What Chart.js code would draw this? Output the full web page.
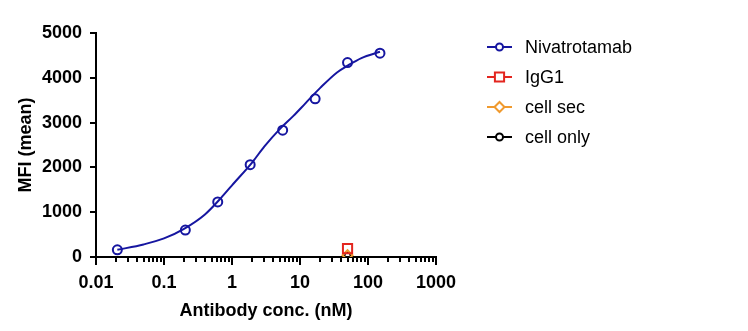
<!DOCTYPE html>
<html>
<head>
<meta charset="utf-8">
<script src="https://cdn.jsdelivr.net/npm/chart.js@4/dist/chart.umd.min.js"></script>
<style>
  html, body { margin: 0; padding: 0; background: #fff; }
  #wrap { width: 748px; height: 331px; position: relative; }
</style>
</head>
<body>
<div id="wrap"><canvas id="mfiChart"></canvas></div>
<script>
// measured binding: concentration (nM) vs MFI
const concNM      = [0.0206, 0.206, 0.617, 1.85, 5.56, 16.7, 50, 150];
const mfiNiva     = [160, 600, 1230, 2060, 2830, 3530, 4340, 4550];
// fitted curve, sampled along its length
const fitConc     = [0.0206, 0.05, 0.1, 0.2, 0.4, 0.7, 1, 2, 3, 5, 8, 12, 20, 35, 50, 80, 150];
const fitMFI      = [160, 280, 415, 635, 950, 1330, 1600, 2120, 2470, 2850, 3150, 3430, 3780, 4120, 4270, 4440, 4580];
// controls, single concentration
const ctrlConc    = [50];
const mfiIgG1     = [185];
const mfiCellSec  = [40];
const mfiCellOnly = [40];
const xTickValues = [0.01, 0.1, 1, 10, 100, 1000];
const yTickValues = [0, 1000, 2000, 3000, 4000, 5000];

const FONT = "'Liberation Sans', Arial, Helvetica, sans-serif";
const NAVY = '#1616a0';
const RED = '#e3261f';
const ORANGE = '#f09a2e';
const BLACK = '#000';

const pts = (xs, ys) => ys.map((y, i) => ({ x: xs[i], y }));

// short minor ticks on the log axis (2..9 within each decade)
const minorTicks = {
  id: 'minorTicks',
  afterDraw(chart) {
    const x = chart.scales.x, y = chart.scales.y;
    const c = chart.ctx;
    c.save();
    c.strokeStyle = '#000';
    c.lineWidth = 2;
    for (let d = 0; d < xTickValues.length - 1; d++) {
      for (let k = 2; k <= 9; k++) {
        const px = Math.round(x.getPixelForValue(xTickValues[d] * k));
        c.beginPath();
        c.moveTo(px, y.bottom);
        c.lineTo(px, y.bottom + 5);
        c.stroke();
      }
    }
    c.restore();
  }
};

// legend at right: line with marker, then label (skips the fit-only dataset)
const sideLegend = {
  id: 'sideLegend',
  afterDraw(chart) {
    const c = chart.ctx;
    c.save();
    chart.data.datasets.filter(ds => ds.inLegend).forEach((ds, i) => {
      const cy = 47 + i * 30;
      c.strokeStyle = ds.borderColor;
      c.lineWidth = 2;
      c.beginPath();
      c.moveTo(487, cy);
      c.lineTo(512, cy);
      c.stroke();
      c.fillStyle = '#fff';
      c.lineWidth = 2;
      Chart.helpers.drawPoint(c, { pointStyle: ds.pointStyle, radius: ds.legendRadius, borderWidth: 2 }, 499.5, cy);
      c.fillStyle = '#000';
      c.font = '18px ' + FONT;
      c.textBaseline = 'middle';
      c.textAlign = 'left';
      c.fillText(ds.label, 525, cy + 1);
    });
    c.restore();
  }
};

new Chart(document.getElementById('mfiChart'), {
  type: 'scatter',
  data: {
    datasets: [
      {
        label: 'Nivatrotamab',
        data: pts(concNM, mfiNiva),
        borderColor: NAVY,
        pointStyle: 'circle',
        pointRadius: 4.5,
        pointBorderWidth: 2,
        pointBorderColor: NAVY,
        pointBackgroundColor: 'rgba(0,0,0,0)',
        legendRadius: 3.5,
        inLegend: true,
        order: 1
      },
      {
        label: 'IgG1',
        data: pts(ctrlConc, mfiIgG1),
        borderColor: RED,
        pointStyle: 'rect',
        pointRadius: 6.5,
        pointBorderWidth: 2,
        pointBorderColor: RED,
        pointBackgroundColor: 'rgba(0,0,0,0)',
        legendRadius: 6.5,
        inLegend: true,
        order: 2
      },
      {
        label: 'cell sec',
        data: pts(ctrlConc, mfiCellSec),
        borderColor: ORANGE,
        pointStyle: 'rectRot',
        pointRadius: 5,
        pointBorderWidth: 2,
        pointBorderColor: ORANGE,
        pointBackgroundColor: 'rgba(0,0,0,0)',
        legendRadius: 5,
        inLegend: true,
        order: 3
      },
      {
        label: 'cell only',
        data: pts(ctrlConc, mfiCellOnly),
        borderColor: BLACK,
        pointStyle: 'circle',
        pointRadius: 3,
        pointBorderWidth: 2,
        pointBorderColor: BLACK,
        pointBackgroundColor: 'rgba(0,0,0,0)',
        legendRadius: 3.5,
        inLegend: true,
        order: 4
      },
      {
        label: 'Nivatrotamab fit',
        data: pts(fitConc, fitMFI),
        showLine: true,
        cubicInterpolationMode: 'monotone',
        borderColor: NAVY,
        borderWidth: 2,
        pointRadius: 0,
        inLegend: false,
        order: 5
      }
    ]
  },
  options: {
    responsive: true,
    maintainAspectRatio: false,
    animation: false,
    layout: { padding: { top: 33, right: 312, left: 0, bottom: 0 } },
    plugins: {
      legend: { display: false },
      tooltip: { enabled: false }
    },
    scales: {
      x: {
        type: 'logarithmic',
        min: 0.01,
        max: 1000,
        afterBuildTicks: s => { s.ticks = xTickValues.map(v => ({ value: v })); },
        afterFit: s => { s.height = 74; },
        ticks: {
          autoSkip: false,
          maxRotation: 0,
          padding: 7,
          color: '#000',
          font: { family: FONT, size: 18, weight: 'bold' },
          callback: v => String(v)
        },
        grid: { drawOnChartArea: false, tickLength: 8, color: '#000', lineWidth: 2 },
        border: { color: '#000', width: 2 },
        title: {
          display: true,
          text: 'Antibody conc. (nM)',
          color: '#000',
          font: { family: FONT, size: 18, weight: 'bold' },
          padding: { top: 2, bottom: 9 }
        }
      },
      y: {
        min: 0,
        max: 5000,
        afterBuildTicks: s => { s.ticks = yTickValues.map(v => ({ value: v })); },
        afterFit: s => { s.width = 96; },
        ticks: {
          padding: 8,
          color: '#000',
          font: { family: FONT, size: 18, weight: 'bold' },
          callback: v => String(v)
        },
        grid: { drawOnChartArea: false, tickLength: 6, color: '#000', lineWidth: 2 },
        border: { color: '#000', width: 2 },
        title: {
          display: true,
          text: 'MFI (mean)',
          color: '#000',
          font: { family: FONT, size: 18, weight: 'bold' },
          padding: { top: 15, bottom: 0 }
        }
      }
    }
  },
  plugins: [minorTicks, sideLegend]
});
</script>
</body>
</html>
